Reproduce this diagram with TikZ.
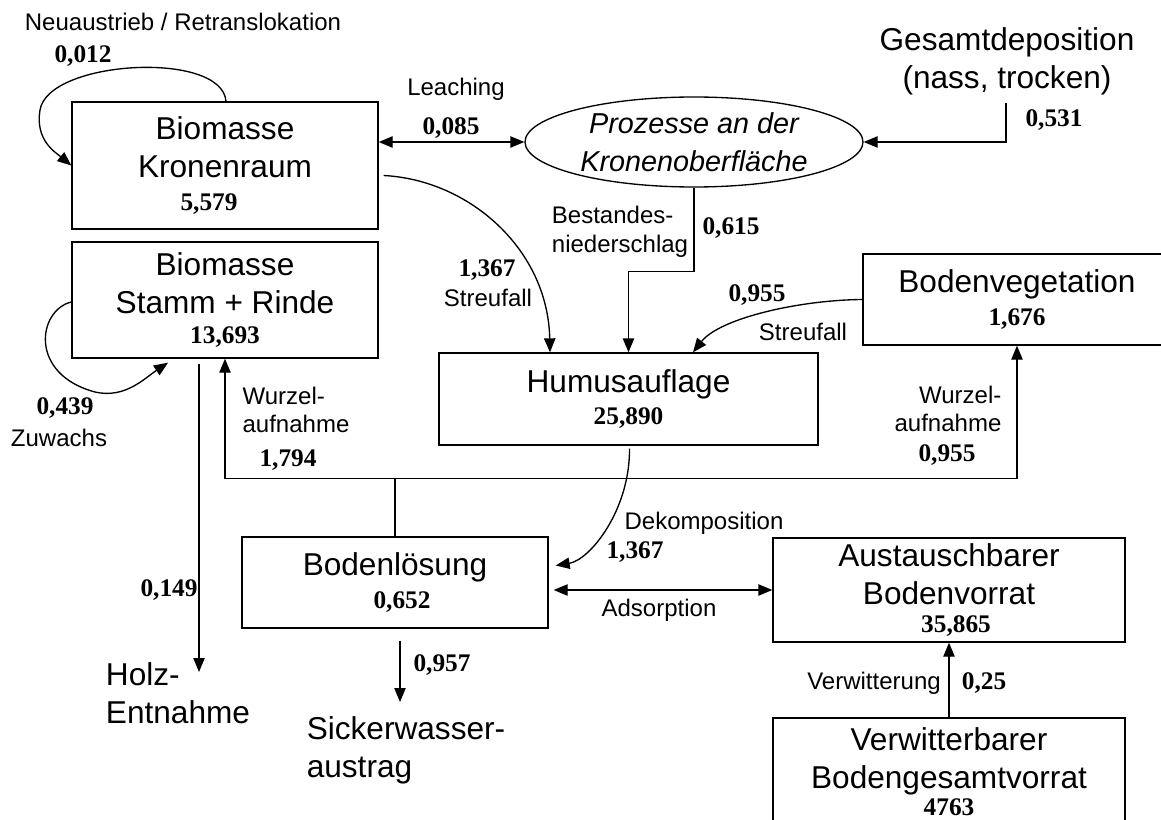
\documentclass[tikz,border=0pt]{standalone}
\usepackage{fontspec}
\setmainfont{Liberation Sans}
\newfontfamily\serifnum{Liberation Serif}
\usetikzlibrary{arrows.meta}
\usetikzlibrary{shapes.geometric}
\usetikzlibrary{calc}
\newcommand\bigfont{\fontsize{23.7}{28.5}\selectfont}
\newcommand\smallfont{\fontsize{18}{21.5}\selectfont}
\newcommand\numfont{\serifnum\bfseries\fontsize{19}{21}\selectfont}

\begin{document}
\begin{tikzpicture}[x=0.75pt, y=-0.75pt,
  >={Triangle[length=10.5pt,width=8.5pt]},
  pool/.style={draw, line width=1pt, align=center, inner sep=0pt, font=\bigfont},
  lbl/.style={font=\smallfont, align=center, inner sep=0pt},
  val/.style={font=\numfont, inner sep=0pt},
  flow/.style={->, line width=1pt},
  flow2/.style={<->, line width=1pt}]
  \useasboundingbox (0,0) rectangle (1161,820);
  \clip (0,0) rectangle (1161,820);

  % pools
  \node[pool, minimum width=229.5pt, minimum height=95.25pt] (kron) at (225,165.5)
    {Biomasse\\Kronenraum\\[-4pt]{\numfont\hspace*{-24pt}5,579}};
  \node[pool, minimum width=229.5pt, minimum height=87pt] (stamm) at (225,300)
    {Biomasse\\Stamm + Rinde\\[-6pt]{\numfont 13,693}};
  \node[ellipse, draw, line width=1pt, minimum width=253.5pt, minimum height=67.5pt,
    inner sep=0pt, align=center, font=\fontsize{21.6}{28.5}\selectfont\itshape] (kro) at (694,142)
    {Prozesse an der\\Kronenoberfläche};
  \node[pool, minimum width=231pt, minimum height=68.25pt] (bveg) at (1017,299.5)
    {Bodenvegetation\\[-4pt]{\numfont 1,676}};
  \node[pool, minimum width=284.25pt, minimum height=69pt] (humus) at (628.5,399)
    {Humusauflage\\[-4pt]{\numfont 25,890}};
  \node[pool, minimum width=229.5pt, minimum height=68.25pt] (loes) at (395,582.5)
    {Bodenlösung\\[-4pt]{\numfont\hspace*{10.5pt}0,652}};
  \node[pool, minimum width=264pt, minimum height=78pt] (aust) at (949,590)
    {Austauschbarer\\Bodenvorrat\\[-8pt]{\numfont\hspace*{10.5pt}35,865}};
  \node[pool, minimum width=264pt, minimum height=81pt] (verw) at (949,772)
    {Verwitterbarer\\Bodengesamtvorrat\\[-8pt]{\numfont 4763}};

  % sources and sinks
  \node[lbl, font=\bigfont] (dep) at (1007,61) {Gesamtdeposition\\(nass, trocken)};
  \node[lbl, font=\bigfont, align=left] (holz) at (178,693) {Holz-\\Entnahme};
  \node[lbl, font=\bigfont, align=left] (sick) at (406,750) {Sickerwasser-\\austrag};
  \coordinate (hz) at (199,672);
  \coordinate (sw) at (400,702);
  \coordinate (wj) at ($(loes.north)+(0,-58)$);

  % flows
  \draw[flow] ($(kron.north)+(1,0)$) .. controls (222,50) and (48,60) .. (40,110)
    .. controls (35,140) and (55,152) .. (kron.west);
  \draw[flow2] (kron.east |- kro.west) -- (kro.west);
  \draw[flow] ($(dep.south)+(-1,8)$) |- (kro.east);
  \draw[flow] (kro.south) |- ($(humus.north)+(0,-81)$) -- (humus.north);
  \draw[flow] ($(kron.east)+(5,10)$) .. controls (470,180) and (548,250) .. ($(humus.north)+(-78.5,0)$);
  \draw[flow] (bveg.west) .. controls (800,300) and (720,318) .. ($(humus.north)+(64.5,0)$);
  \draw[flow] ($(stamm.west)+(0,2)$) .. controls (38,310) and (28,374) .. (95,392)
    .. controls (125,399) and (145,378) .. ($(stamm.south)+(-57,4)$);
  \draw[flow] (loes.north) -- (wj) -| (stamm.south);
  \draw[flow] (wj) -| (bveg.south);
  \draw[flow] ($(stamm.south)+(-26,5)$) -- (hz);
  \draw[flow] ($(humus.south)+(1,3)$) .. controls (630,510) and (590,560) .. ($(loes.east)+(7,-17)$);
  \draw[flow2] ($(loes.east |- aust.west)+(5,0)$) -- (aust.west);
  \draw[flow] ($(loes.south)+(5,12)$) -- (sw);
  \draw[flow] (verw.north) -- (aust.south);

  % flow labels
  \node[lbl] (neu) at (183,22) {Neuaustrieb / Retranslokation};
  \node[val] (vneu) at (83,56) {0,012};
  \node[lbl] (leach) at (456,89) {Leaching};
  \node[val] (vleach) at (451,128) {0,085};
  \node[val] (vdep) at (1054,120) {0,531};
  \node[lbl, align=left] (best) at (620,232) {Bestandes-\\niederschlag};
  \node[val] (vbest) at (731,228) {0,615};
  \node[val] (vstr) at (487,270) {1,367};
  \node[lbl] (str) at (488,298) {Streufall};
  \node[val] (vstrb) at (757,295) {0,955};
  \node[lbl] (strb) at (803,332) {Streufall};
  \node[lbl, align=left] (wurz) at (296,410) {Wurzel-\\aufnahme};
  \node[val] (vwurz) at (288,460) {1,794};
  \node[lbl, align=right] (wurzb) at (948,409) {Wurzel-\\aufnahme};
  \node[val] (vwurzb) at (947,455) {0,955};
  \node[val] (vzu) at (65,408) {0,439};
  \node[lbl] (zu) at (59,438) {Zuwachs};
  \node[val] (vholz) at (169,590) {0,149};
  \node[val] (vsick) at (442,665) {0,957};
  \node[lbl] (dek) at (704,523) {Dekomposition};
  \node[val] (vdek) at (635,552) {1,367};
  \node[lbl] (ads) at (659,610) {Adsorption};
  \node[lbl] (verwl) at (874,683) {Verwitterung};
  \node[val] (vverw) at (984,683) {0,25};
\end{tikzpicture}
\end{document}
